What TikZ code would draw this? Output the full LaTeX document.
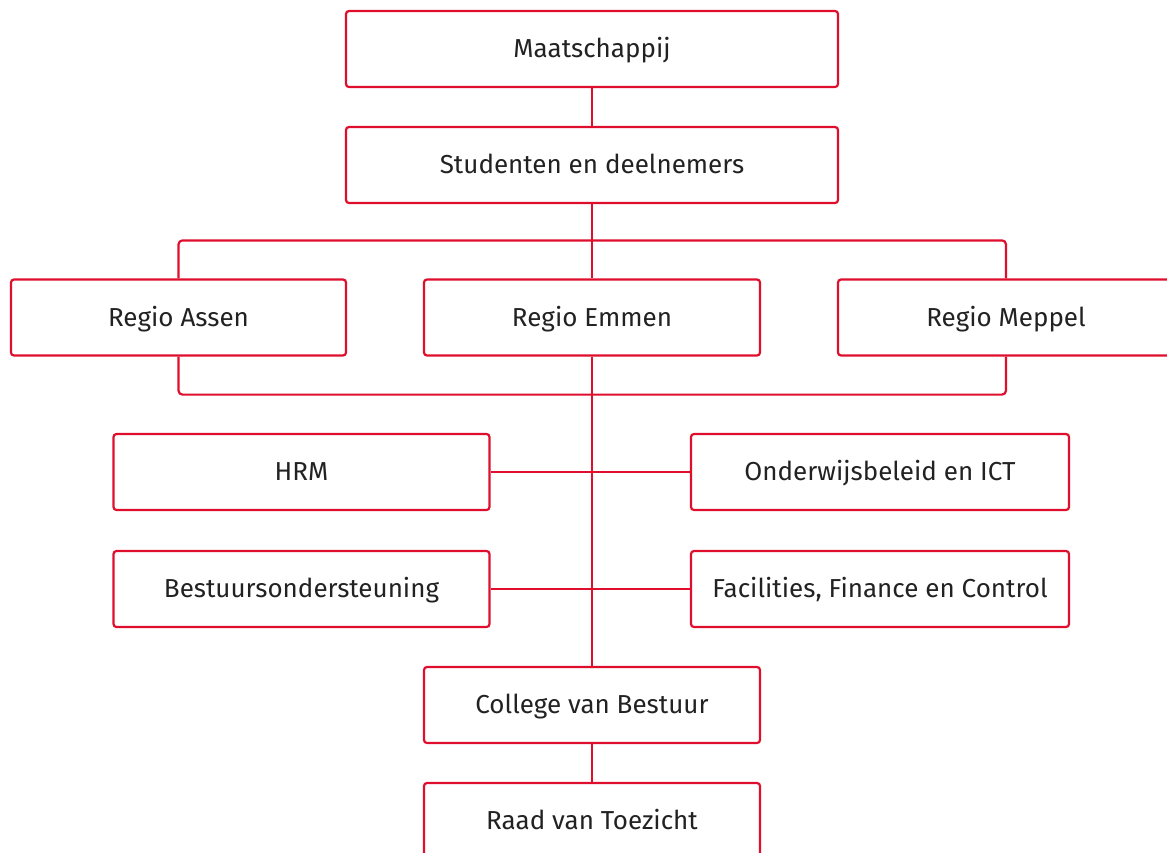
\documentclass[tikz,border=0pt]{standalone}
\usepackage{fontspec}
\setmainfont{Fira Sans}
\definecolor{dred}{RGB}{222,14,44}
\definecolor{txt}{RGB}{34,34,34}
\begin{document}
\begin{tikzpicture}[x=1pt,y=-1pt,
  box/.style={draw=dred, line width=2.2pt, rounded corners=3pt, fill=white,
    minimum height=76pt, inner sep=0pt, text=txt, text height=17pt, text depth=0pt,
    font=\fontsize{26}{30}\selectfont},
  conn/.style={draw=dred, line width=2.2pt, rounded corners=4pt}]
\useasboundingbox (0,0) rectangle (1167,852);
\clip (0,0) rectangle (1167,852);
\node[box, minimum width=492pt] (maat) at (592,49) {Maatschappij};
\node[box, minimum width=492pt] (stud) at (592,165) {Studenten en deelnemers};
\node[box, minimum width=335pt] (assen) at (178.5,317.5) {Regio Assen};
\node[box, minimum width=336pt] (emmen) at (592,317.5) {Regio Emmen};
\node[box, minimum width=336pt] (meppel) at (1006,317.5) {Regio Meppel};
\node[box, minimum width=376pt] (hrm) at (301.5,472) {HRM};
\node[box, minimum width=378pt] (ond) at (880,472) {Onderwijsbeleid en ICT};
\node[box, minimum width=376pt] (best) at (301.5,589) {Bestuursondersteuning};
\node[box, minimum width=378pt] (ffc) at (880,589) {Facilities, Finance en Control};
\node[box, minimum width=336pt] (cvb) at (592,705) {College van Bestuur};
\node[box, minimum width=336pt] (rvt) at (592,821) {Raad van Toezicht};
\draw[conn] (maat.south) -- (stud.north);
\draw[conn] (stud.south) -- (emmen.north);
\draw[conn] (assen.north) -- ++(0,-38) -| (meppel.north);
\draw[conn] (assen.south) -- ++(0,38) -| (meppel.south);
\draw[conn] (emmen.south) -- (cvb.north);
\draw[conn] (hrm.east) -- (ond.west);
\draw[conn] (best.east) -- (ffc.west);
\draw[conn] (cvb.south) -- (rvt.north);
\end{tikzpicture}
\end{document}
